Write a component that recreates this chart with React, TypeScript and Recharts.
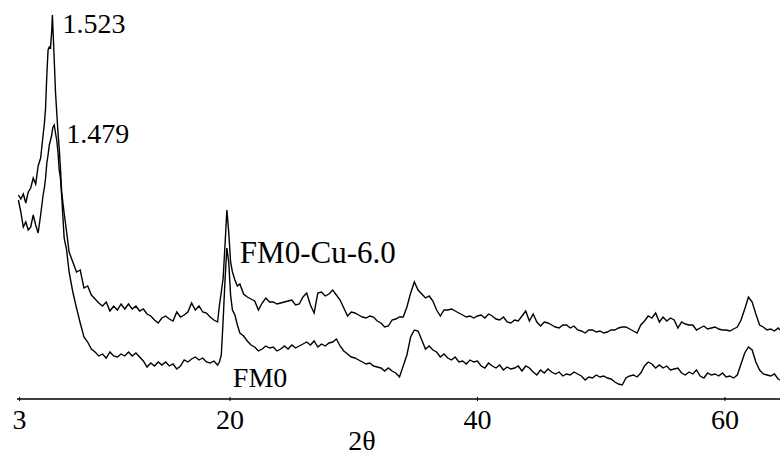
import React from "react";
import { LineChart, Line, XAxis, YAxis, ReferenceDot } from "recharts";

// 2θ positions of the sampled points
const angles = [
  2.9, 3.1, 3.3, 3.5, 3.7, 3.9, 4.1, 4.3, 4.5, 4.7, 4.9,
  5.0, 5.1, 5.2, 5.3, 5.4, 5.5, 5.6, 5.65, 5.7, 5.8, 5.9, 6.0, 6.1, 6.2, 6.3, 6.4,
  6.6, 6.8, 7.0,
  7.3, 7.6, 7.9, 8.2, 8.5, 8.8, 9.1, 9.4, 9.7, 10.0,
  10.3, 10.6, 10.9, 11.2, 11.5, 11.8, 12.1, 12.4, 12.7, 13.0,
  13.3, 13.6, 13.9, 14.2, 14.5, 14.8, 15.1, 15.4, 15.7, 16.0,
  16.3, 16.6, 16.9, 17.2, 17.5, 17.8, 18.1, 18.4, 18.7, 19.0,
  19.15, 19.3, 19.45, 19.6, 19.75, 19.9, 20.05, 20.2, 20.4, 20.6, 20.8,
  21.1, 21.4, 21.7, 22.0, 22.3, 22.6, 22.9, 23.2, 23.5, 23.8,
  24.1, 24.4, 24.7, 25.0, 25.3, 25.6, 25.9, 26.2, 26.5, 26.8,
  27.1, 27.4, 27.7, 28.0, 28.3, 28.6, 28.9, 29.2, 29.5, 29.8,
  30.1, 30.4, 30.7, 31.0, 31.3, 31.6, 31.9, 32.2, 32.5, 32.8,
  33.1, 33.4, 33.7, 34.0, 34.3, 34.6, 34.9, 35.2, 35.5, 35.8,
  36.1, 36.4, 36.7, 37.0, 37.3, 37.6, 37.9, 38.2, 38.5, 38.8,
  39.1, 39.4, 39.7, 40.0, 40.3, 40.6, 40.9, 41.2, 41.5, 41.8,
  42.1, 42.4, 42.7, 43.0, 43.3, 43.6, 43.9, 44.2, 44.5, 44.8,
  45.1, 45.4, 45.7, 46.0, 46.3, 46.6, 46.9, 47.2, 47.5, 47.8,
  48.1, 48.4, 48.7, 49.0, 49.3, 49.6, 49.9, 50.2, 50.5, 50.8,
  51.1, 51.4, 51.7, 52.0, 52.3, 52.6, 52.9, 53.2, 53.5, 53.8,
  54.1, 54.4, 54.7, 55.0, 55.3, 55.6, 55.9, 56.2, 56.5, 56.8,
  57.1, 57.4, 57.7, 58.0, 58.3, 58.6, 58.9, 59.2, 59.5, 59.8,
  60.1, 60.4, 60.7, 61.0, 61.3, 61.6, 61.9, 62.2, 62.5, 62.8,
  63.1, 63.4, 63.7, 64.0, 64.3,
  64.45,
];

// FM0-Cu-6.0 (upper trace), arbitrary intensity
const fm0Cu = [
  204, 200, 205, 196, 207, 211, 221, 215, 233, 241, 264,
  275, 291, 324, 349, 352, 351, 369, 384, 369, 339, 307, 287, 267, 251, 231, 207,
  186, 167, 147,
  137, 127, 129, 111, 113, 104, 100, 96, 93, 97,
  88, 93, 89, 95, 90, 95, 90, 93, 88, 90,
  85, 83, 79, 76, 81, 83, 80, 78, 87, 82,
  84, 87, 96, 89, 93, 87, 86, 82, 79, 77,
  94, 107, 121, 154, 189, 167, 137, 127, 119, 113, 115,
  105, 102, 100, 98, 89, 96, 101, 97, 97, 95,
  96, 97, 98, 99, 94, 95, 102, 106, 94, 86,
  106, 107, 103, 105, 109, 104, 99, 91, 83, 87,
  86, 84, 82, 81, 83, 82, 78, 76, 72, 73,
  79, 80, 82, 82, 92, 106, 117, 109, 105, 101,
  103, 98, 89, 83, 89, 89, 90, 88, 86, 84,
  82, 83, 81, 83, 84, 81, 85, 83, 80, 79,
  82, 77, 76, 79, 78, 83, 88, 78, 85, 77,
  73, 77, 76, 74, 72, 71, 74, 74, 71, 73,
  69, 68, 66, 69, 69, 67, 68, 66, 67, 69,
  69, 71, 72, 72, 70, 68, 66, 74, 78, 83,
  81, 86, 77, 82, 78, 81, 79, 71, 77, 75,
  74, 74, 69, 71, 73, 70, 71, 72, 70, 69,
  69, 68, 70, 72, 79, 90, 102, 97, 85, 74,
  72, 69, 70, 68, 71,
  69,
];

// FM0 (lower trace)
const fm0 = [
  199, 187, 172, 177, 169, 172, 184, 174, 166, 184, 204,
  211, 221, 236, 244, 254, 259, 264, 269, 272, 274, 266, 259, 247, 229, 221, 203,
  161, 149, 127,
  107, 91, 76, 62, 57, 50, 47, 43, 45, 41,
  47, 43, 42, 45, 43, 47, 43, 46, 42, 38,
  32, 36, 33, 37, 34, 37, 33, 35, 30, 33,
  39, 37, 40, 42, 39, 41, 37, 36, 38, 34,
  37, 44, 79, 119, 151, 137, 104, 89, 84, 74, 66,
  63, 58, 54, 52, 48, 50, 53, 51, 52, 48,
  50, 53, 50, 54, 51, 53, 55, 57, 54, 58,
  52, 55, 53, 56, 57, 60, 53, 48, 45, 42,
  41, 39, 37, 35, 36, 33, 32, 31, 28, 31,
  28, 26, 22, 33, 44, 62, 69, 68, 59, 50,
  53, 49, 47, 42, 45, 41, 39, 42, 37, 38,
  35, 39, 37, 38, 33, 31, 36, 33, 31, 34,
  29, 32, 30, 31, 33, 28, 33, 31, 27, 24,
  29, 26, 30, 27, 25, 27, 23, 25, 24, 27,
  25, 23, 19, 22, 21, 24, 22, 23, 21, 20,
  17, 15, 14, 21, 23, 24, 22, 26, 33, 37,
  35, 31, 34, 31, 33, 29, 30, 31, 26, 24,
  27, 25, 29, 23, 21, 26, 24, 25, 23, 26,
  22, 23, 21, 24, 35, 46, 52, 49, 37, 29,
  25, 24, 23, 25, 20,
  19,
];

const tickValues = [3, 20, 40, 60];

const data = angles.map((t, i) => ({ t, cu: fm0Cu[i], fm0: fm0[i] }));

const textStyle = { fontFamily: "Liberation Serif, DejaVu Serif, serif", fontSize: 28 };

function AxisTick(props: any) {
  const { x, y, payload } = props;
  return (
    <g>
      <line x1={x} x2={x} y1={y} y2={y - 4} stroke="#000" strokeWidth={1} />
      <text x={x} y={y + 28} textAnchor="middle" style={textStyle} fill="#000">
        {payload.value}
      </text>
    </g>
  );
}

const axisLabel = (props: any) => {
  const { viewBox } = props;
  return (
    <text x={viewBox.x + viewBox.width * 0.452} y={viewBox.y + 51} textAnchor="middle" style={textStyle} fill="#000">
      2θ
    </text>
  );
};

const noteLabel = (text: string, dx: number, dy: number, size = 28) => (props: any) => {
  const { viewBox } = props;
  const cx = viewBox.x + viewBox.width / 2;
  const cy = viewBox.y + viewBox.height / 2;
  return (
    <text x={cx + dx} y={cy + dy} style={{ ...textStyle, fontSize: size }} fill="#000">
      {text}
    </text>
  );
};

export default function App() {
  return (
    <div style={{ position: "absolute", left: 0, top: 0, width: 780, height: 461, background: "#fff" }}>
      <LineChart width={780} height={461} data={data} margin={{ top: 0, right: 0, left: 17, bottom: 0 }}>
        <XAxis
          type="number"
          dataKey="t"
          domain={[2.79, 64.45]}
          ticks={tickValues}
          interval={0}
          allowDataOverflow
          height={62}
          tickSize={0}
          tickLine={false}
          axisLine={{ stroke: "#000", strokeWidth: 1.5 }}
          tick={<AxisTick />}
          label={axisLabel}
        />
        <YAxis hide domain={[0, 399]} allowDataOverflow />
        <Line type="linear" dataKey="cu" stroke="#000" strokeWidth={1.4} dot={false} isAnimationActive={false} />
        <Line type="linear" dataKey="fm0" stroke="#000" strokeWidth={1.4} dot={false} isAnimationActive={false} />
        <ReferenceDot x={5.65} y={384} r={1} fill="none" stroke="none" label={noteLabel("1.523", 10, 18)} />
        <ReferenceDot x={5.8} y={274} r={1} fill="none" stroke="none" label={noteLabel("1.479", 12, 18)} />
        <ReferenceDot x={19.75} y={189} r={1} fill="none" stroke="none" label={noteLabel("FM0-Cu-6.0", 13, 53, 31)} />
        <ReferenceDot x={19.75} y={151} r={1} fill="none" stroke="none" label={noteLabel("FM0", 6, 139)} />
      </LineChart>
    </div>
  );
}
